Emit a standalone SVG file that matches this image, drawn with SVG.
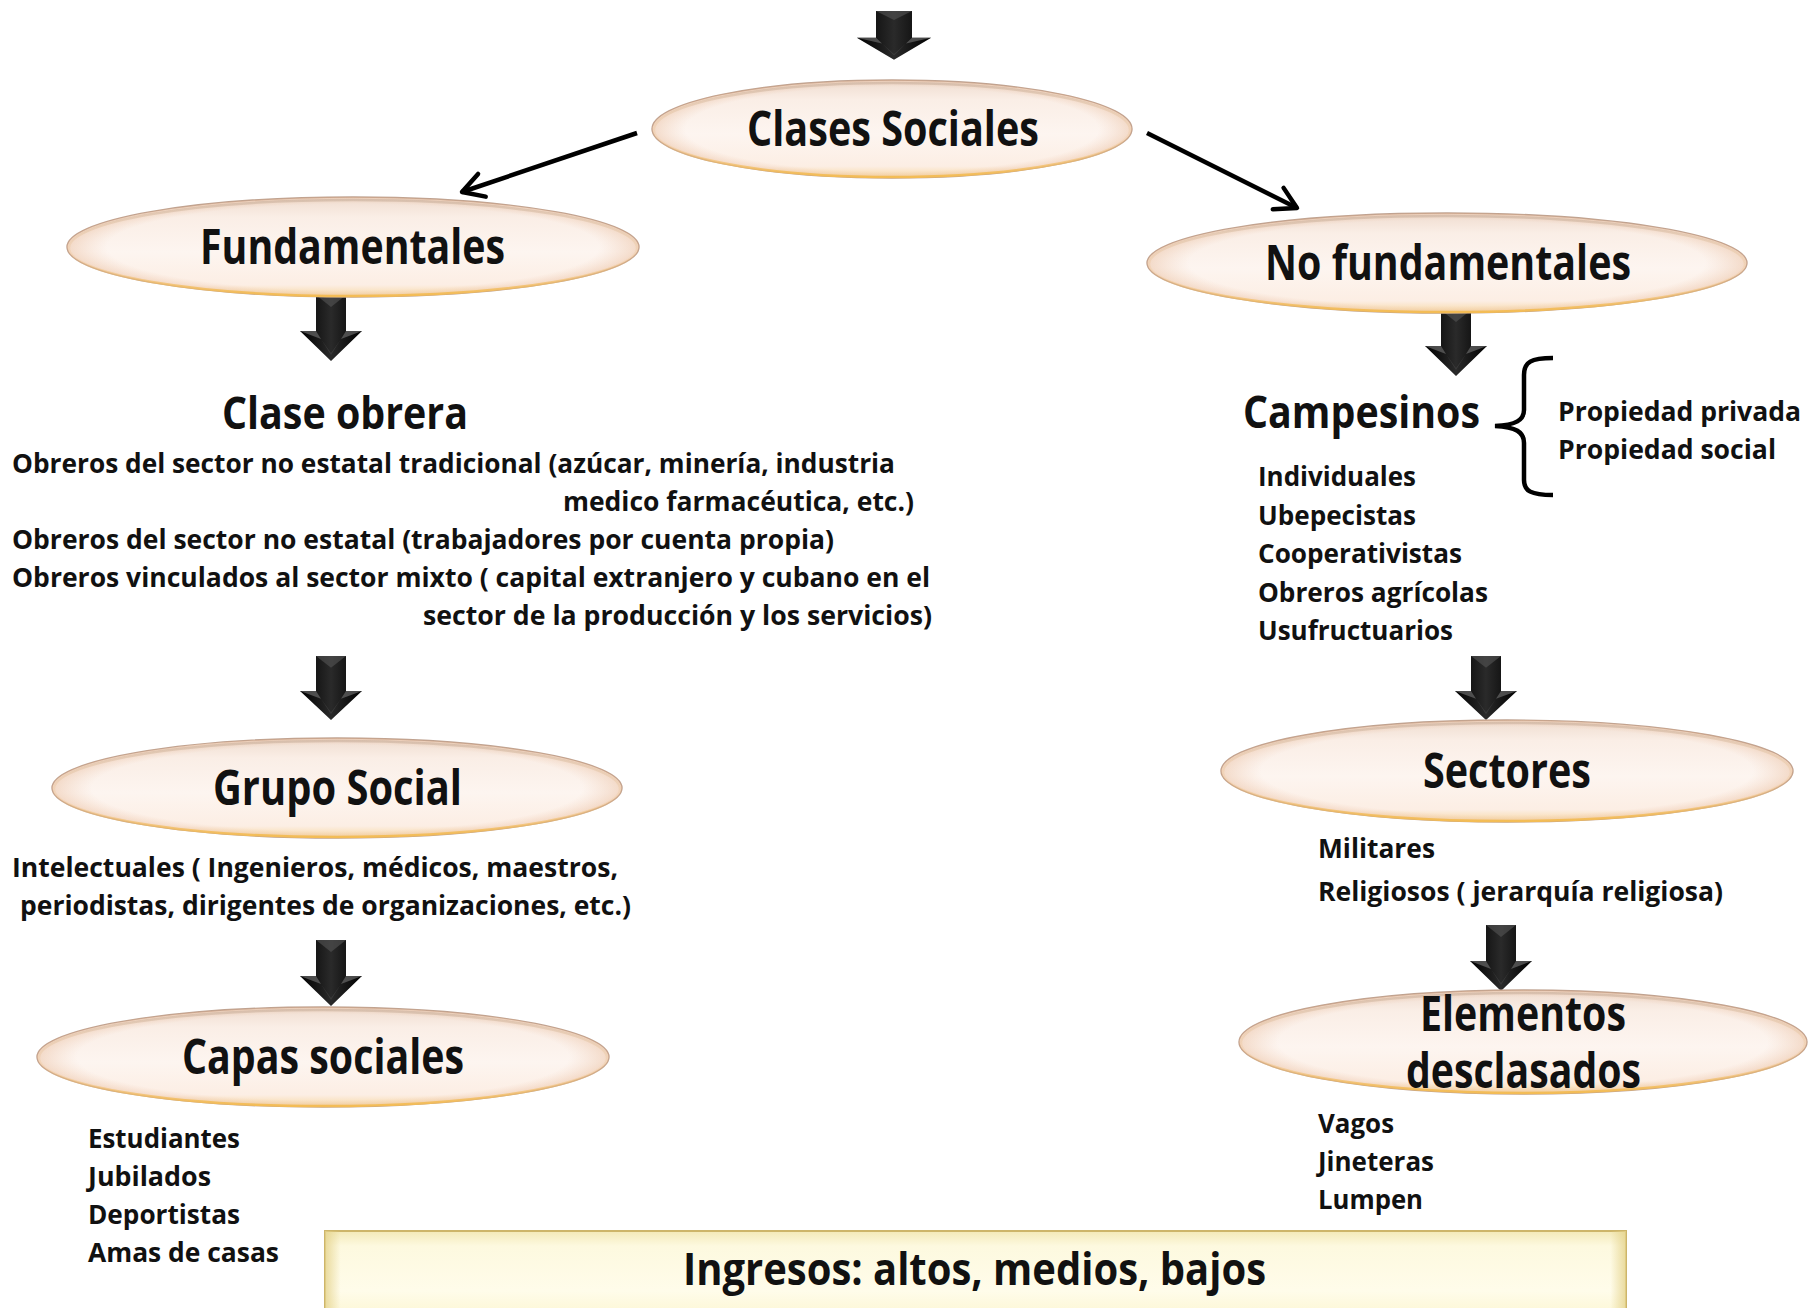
<svg xmlns="http://www.w3.org/2000/svg" width="1816" height="1308" viewBox="0 0 1816 1308">
<style>
.t{font-family:"Open Sans","Liberation Sans",sans-serif;font-weight:700;fill:#111}
.big{font-size:48px}
.mid{font-size:45px}
.sm{font-size:26px}
.ell{fill:url(#ellFill);stroke:#BFA290;stroke-width:1.4}
.ellEdge{fill:url(#ellEdge)}
.ellGlow{fill:none;stroke:url(#ellGlow);stroke-width:2.5}
.conn{fill:none;stroke:#000;stroke-width:4.5;marker-end:url(#open)}
</style>
<defs>
<linearGradient id="ellFill" x1="0" y1="0" x2="0" y2="1">
<stop offset="0" stop-color="#EFDCCF"/>
<stop offset="0.2" stop-color="#FAEEE6"/>
<stop offset="0.55" stop-color="#FDF5F0"/>
<stop offset="0.88" stop-color="#FCEEE4"/>
<stop offset="1" stop-color="#F7D8A4"/>
</linearGradient>
<radialGradient id="ellEdge" cx="0.5" cy="0.5" r="0.5">
<stop offset="0.86" stop-color="#E8B898" stop-opacity="0"/>
<stop offset="1" stop-color="#E2AC84" stop-opacity="0.38"/>
</radialGradient>
<linearGradient id="ellGlow" x1="0" y1="0" x2="0" y2="1">
<stop offset="0" stop-color="#B79F8C" stop-opacity="0.4"/>
<stop offset="0.6" stop-color="#F0C080" stop-opacity="0.2"/>
<stop offset="1" stop-color="#F3BC55"/>
</linearGradient>
<linearGradient id="arrFill" x1="0" y1="0" x2="1" y2="0">
<stop offset="0" stop-color="#000"/>
<stop offset="0.5" stop-color="#2a2a2a"/>
<stop offset="1" stop-color="#000"/>
</linearGradient>
<linearGradient id="boxFill" x1="0" y1="0" x2="0" y2="1">
<stop offset="0" stop-color="#F3E9B8"/>
<stop offset="0.15" stop-color="#FDF9DF"/>
<stop offset="0.6" stop-color="#FFFCEA"/>
<stop offset="1" stop-color="#FBF3C6"/>
</linearGradient>
<linearGradient id="boxSide" x1="0" y1="0" x2="1" y2="0">
<stop offset="0" stop-color="#E4D28A" stop-opacity="0.8"/>
<stop offset="0.012" stop-color="#E4D28A" stop-opacity="0"/>
<stop offset="0.988" stop-color="#E4D28A" stop-opacity="0"/>
<stop offset="1" stop-color="#E4D28A" stop-opacity="0.8"/>
</linearGradient>
<g id="barrow">
<path d="M-15,0 H15 V36 H31 L0,66 L-31,36 H-15 Z" fill="url(#arrFill)"/>
<path d="M-15,0 L0,12 L15,0 Z" fill="#555" opacity="0.6"/>
<path d="M-31,36 L-15,36 L-10,44 Z M31,36 L15,36 L10,44 Z" fill="#666" opacity="0.7"/>
<path d="M-10,44 L0,58 L10,44 L0,60 Z" fill="#444" opacity="0.6"/>
</g>
<marker id="open" viewBox="0 0 20 20" refX="17" refY="10" markerWidth="30" markerHeight="30" markerUnits="userSpaceOnUse" orient="auto">
<path d="M3,2 L17,10 L3,18" fill="none" stroke="#000" stroke-width="3" stroke-linecap="round" stroke-linejoin="round"/>
</marker>
</defs>
<rect width="1816" height="1308" fill="#fff"/>

<g id="connectors">
<line class="conn" x1="637" y1="133" x2="462" y2="192"/>
<line class="conn" x1="1147" y1="133" x2="1297" y2="208"/>
<use href="#barrow" transform="translate(894,11) scale(1.2,0.74)"/>
<use href="#barrow" transform="translate(331,295)"/>
<use href="#barrow" transform="translate(331,656) scale(1,0.97)"/>
<use href="#barrow" transform="translate(331,940)"/>
<use href="#barrow" transform="translate(1456,310)"/>
<use href="#barrow" transform="translate(1486,656) scale(1,0.97)"/>
<use href="#barrow" transform="translate(1501,925)"/>
</g>

<g id="clases-sociales">
<ellipse class="ell" cx="892" cy="129" rx="240" ry="49"/>
<ellipse class="ellEdge" cx="892" cy="129" rx="240" ry="49"/>
<ellipse class="ellGlow" cx="892" cy="130" rx="238" ry="47"/>
<text class="t big" x="747" y="146" textLength="292" lengthAdjust="spacingAndGlyphs">Clases Sociales</text>
</g>

<g id="fundamentales">
<ellipse class="ell" cx="353" cy="247" rx="286" ry="50"/>
<ellipse class="ellEdge" cx="353" cy="247" rx="286" ry="50"/>
<ellipse class="ellGlow" cx="353" cy="248" rx="284" ry="48"/>
<text class="t big" x="200" y="264" textLength="305" lengthAdjust="spacingAndGlyphs">Fundamentales</text>
</g>

<g id="no-fundamentales">
<ellipse class="ell" cx="1447" cy="263" rx="300" ry="50"/>
<ellipse class="ellEdge" cx="1447" cy="263" rx="300" ry="50"/>
<ellipse class="ellGlow" cx="1447" cy="264" rx="298" ry="48"/>
<text class="t big" x="1265" y="280" textLength="366" lengthAdjust="spacingAndGlyphs">No fundamentales</text>
</g>

<g id="clase-obrera">
<text class="t mid" x="222" y="429" textLength="246" lengthAdjust="spacingAndGlyphs">Clase obrera</text>
<text class="t sm" x="12" y="473" textLength="883" lengthAdjust="spacingAndGlyphs">Obreros del sector no estatal tradicional (azúcar, minería, industria</text>
<text class="t sm" x="563" y="511" textLength="351" lengthAdjust="spacingAndGlyphs">medico farmacéutica, etc.)</text>
<text class="t sm" x="12" y="549" textLength="822" lengthAdjust="spacingAndGlyphs">Obreros del sector no estatal (trabajadores por cuenta propia)</text>
<text class="t sm" x="12" y="587" textLength="918" lengthAdjust="spacingAndGlyphs">Obreros vinculados al sector mixto ( capital extranjero y cubano en el</text>
<text class="t sm" x="423" y="625" textLength="509" lengthAdjust="spacingAndGlyphs">sector de la producción y los servicios)</text>
</g>

<g id="grupo-social">
<ellipse class="ell" cx="337" cy="788" rx="285" ry="50"/>
<ellipse class="ellEdge" cx="337" cy="788" rx="285" ry="50"/>
<ellipse class="ellGlow" cx="337" cy="789" rx="283" ry="48"/>
<text class="t big" x="213" y="805" textLength="249" lengthAdjust="spacingAndGlyphs">Grupo Social</text>
<text class="t sm" x="12" y="877" textLength="606" lengthAdjust="spacingAndGlyphs">Intelectuales ( Ingenieros, médicos, maestros,</text>
<text class="t sm" x="20" y="915" textLength="611" lengthAdjust="spacingAndGlyphs">periodistas, dirigentes de organizaciones, etc.)</text>
</g>

<g id="capas-sociales">
<ellipse class="ell" cx="323" cy="1057" rx="286" ry="50"/>
<ellipse class="ellEdge" cx="323" cy="1057" rx="286" ry="50"/>
<ellipse class="ellGlow" cx="323" cy="1058" rx="284" ry="48"/>
<text class="t big" x="182" y="1074" textLength="282" lengthAdjust="spacingAndGlyphs">Capas sociales</text>
<text class="t sm" x="88" y="1148" textLength="152" lengthAdjust="spacingAndGlyphs">Estudiantes</text>
<text class="t sm" x="88" y="1186" textLength="123" lengthAdjust="spacingAndGlyphs">Jubilados</text>
<text class="t sm" x="88" y="1224" textLength="152" lengthAdjust="spacingAndGlyphs">Deportistas</text>
<text class="t sm" x="88" y="1262" textLength="191" lengthAdjust="spacingAndGlyphs">Amas de casas</text>
</g>

<g id="campesinos">
<text class="t mid" x="1243" y="428" textLength="237" lengthAdjust="spacingAndGlyphs">Campesinos</text>
<path d="M1553,358 C1531,358 1524,362 1524,375 L1524,410 C1524,420 1516,425 1495,426 C1516,427 1524,432 1524,443 L1524,480 C1524,491 1531,495 1553,495" fill="none" stroke="#000" stroke-width="4.5"/>
<text class="t sm" x="1558" y="421" textLength="243" lengthAdjust="spacingAndGlyphs">Propiedad privada</text>
<text class="t sm" x="1558" y="459" textLength="218" lengthAdjust="spacingAndGlyphs">Propiedad social</text>
<text class="t sm" x="1258" y="486" textLength="158" lengthAdjust="spacingAndGlyphs">Individuales</text>
<text class="t sm" x="1258" y="525" textLength="158" lengthAdjust="spacingAndGlyphs">Ubepecistas</text>
<text class="t sm" x="1258" y="563" textLength="204" lengthAdjust="spacingAndGlyphs">Cooperativistas</text>
<text class="t sm" x="1258" y="602" textLength="230" lengthAdjust="spacingAndGlyphs">Obreros agrícolas</text>
<text class="t sm" x="1258" y="640" textLength="195" lengthAdjust="spacingAndGlyphs">Usufructuarios</text>
</g>

<g id="sectores">
<ellipse class="ell" cx="1507" cy="771" rx="286" ry="51"/>
<ellipse class="ellEdge" cx="1507" cy="771" rx="286" ry="51"/>
<ellipse class="ellGlow" cx="1507" cy="772" rx="284" ry="49"/>
<text class="t big" x="1423" y="788" textLength="168" lengthAdjust="spacingAndGlyphs">Sectores</text>
<text class="t sm" x="1318" y="858" textLength="117" lengthAdjust="spacingAndGlyphs">Militares</text>
<text class="t sm" x="1318" y="901" textLength="405" lengthAdjust="spacingAndGlyphs">Religiosos ( jerarquía religiosa)</text>
</g>

<g id="elementos-desclasados">
<ellipse class="ell" cx="1523" cy="1042" rx="284" ry="52"/>
<ellipse class="ellEdge" cx="1523" cy="1042" rx="284" ry="52"/>
<ellipse class="ellGlow" cx="1523" cy="1043" rx="282" ry="50"/>
<text class="t big" x="1420" y="1031" textLength="206" lengthAdjust="spacingAndGlyphs">Elementos</text>
<text class="t big" x="1406" y="1088" textLength="235" lengthAdjust="spacingAndGlyphs">desclasados</text>
<text class="t sm" x="1318" y="1133" textLength="76" lengthAdjust="spacingAndGlyphs">Vagos</text>
<text class="t sm" x="1318" y="1171" textLength="116" lengthAdjust="spacingAndGlyphs">Jineteras</text>
<text class="t sm" x="1318" y="1209" textLength="105" lengthAdjust="spacingAndGlyphs">Lumpen</text>
</g>

<g id="ingresos">
<rect x="325" y="1231" width="1301" height="100" fill="url(#boxFill)" stroke="#CDB56A" stroke-width="2"/>
<rect x="325" y="1231" width="1301" height="100" fill="url(#boxSide)"/>
<text class="t" style="font-size:44px" x="683" y="1285" textLength="583" lengthAdjust="spacingAndGlyphs">Ingresos: altos, medios, bajos</text>
</g>
</svg>
